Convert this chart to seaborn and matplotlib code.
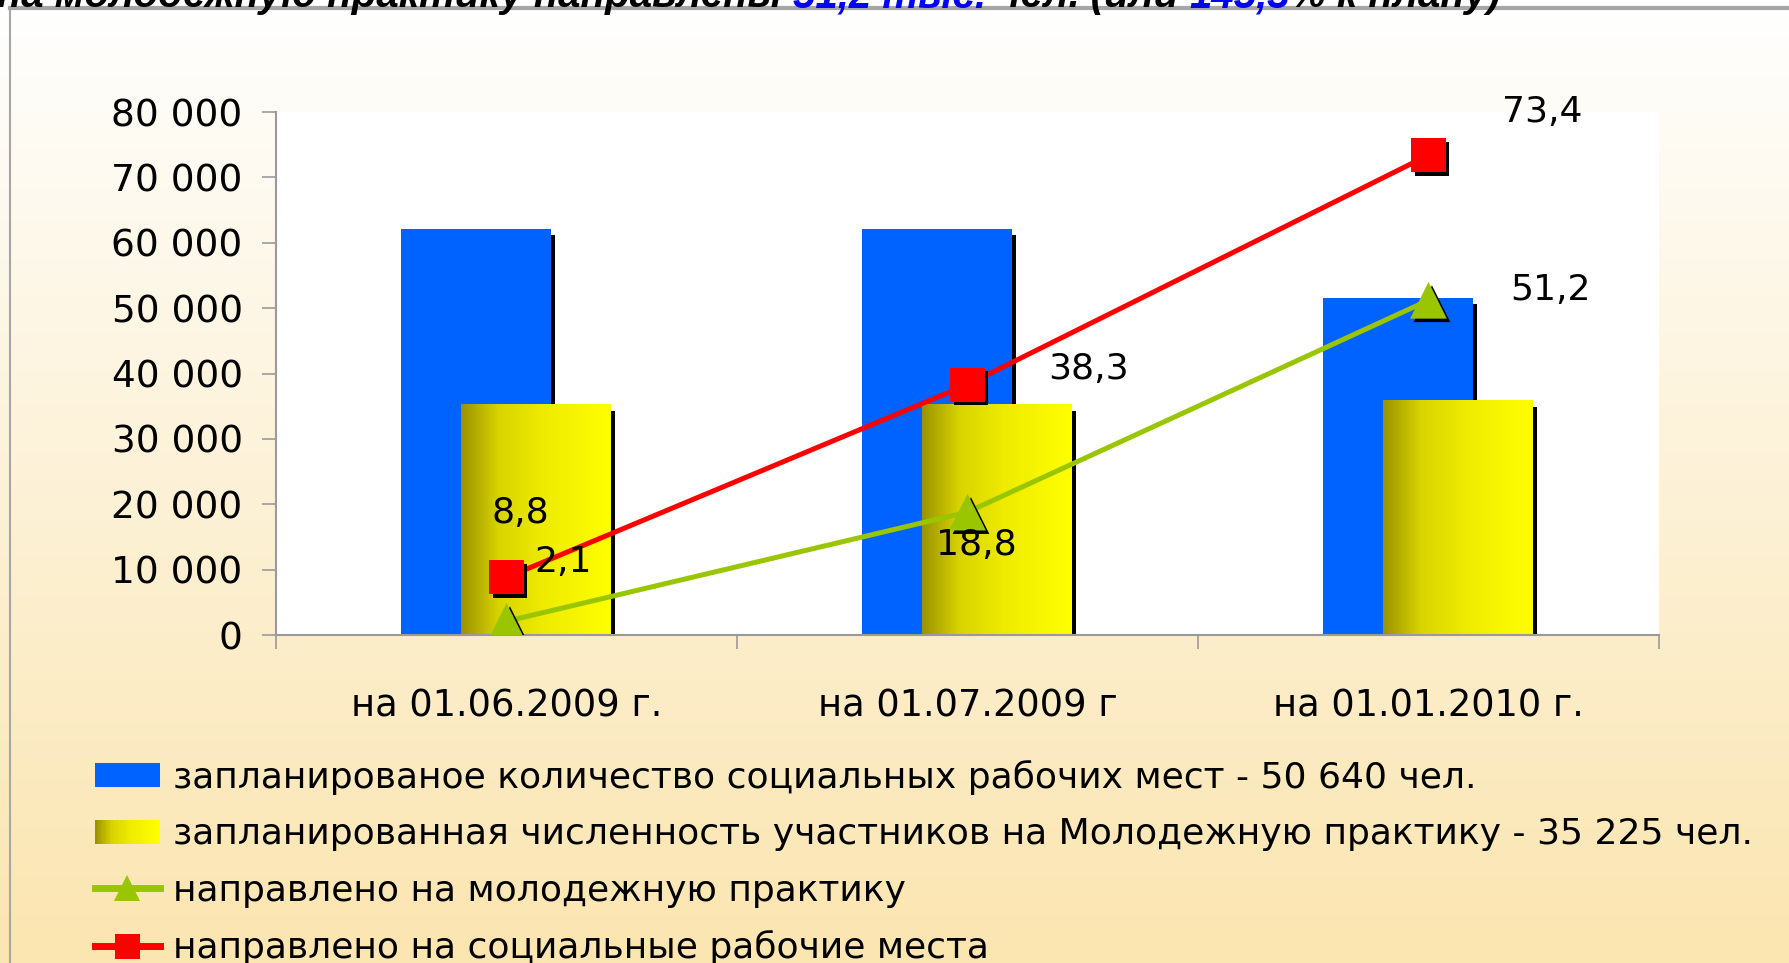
import numpy as np
import seaborn as sns
import matplotlib.pyplot as plt
from matplotlib import patheffects as pe
from matplotlib.colors import LinearSegmentedColormap
from matplotlib.legend_handler import HandlerBase
from matplotlib.patches import Rectangle, Patch
from matplotlib.lines import Line2D
from matplotlib.ticker import FuncFormatter, FixedLocator

# data
dates = ["на 01.06.2009 г.", "на 01.07.2009 г", "на 01.01.2010 г."]
social_plan = [62100, 62100, 51600]     # blue bars
youth_plan = [35225, 35225, 35800]      # yellow bars
youth_sent = [2100, 18800, 51200]       # green line
social_sent = [8800, 38300, 73400]      # red line
youth_labels = ["2,1", "18,8", "51,2"]
social_labels = ["8,8", "38,3", "73,4"]

legend_labels = [
    "запланированое количество социальных рабочих мест - 50 640 чел.",
    "запланированная численность участников на Молодежную практику - 35 225 чел.",
    "направлено на молодежную практику",
    "направлено на социальные рабочие места",
]
title_parts = [
    ("на молодежную практику направлены ", "black"),
    ("51,2 тыс.", "#0000ff"),
    (" чел. (или ", "black"),
    ("145,3", "#0000ff"),
    ("% к плану)", "black"),
]

BLUE = "#0062ff"
GREEN = "#99c600"
RED = "#ff0000"
yellow_cmap = LinearSegmentedColormap.from_list(
    "yel", [(0, "#9a9300"), (0.25, "#d8d400"), (0.55, "#efeb00"), (1, "#ffff00")])

plt.rcParams["font.family"] = ["DejaVu Sans"]

W, H = 1790, 963
fig = plt.figure(figsize=(W / 100, H / 100), dpi=100)

# background gradient
bg = fig.add_axes([0, 0, 1, 1], zorder=-10)
top_c = np.array([255, 255, 255]) / 255
bot_c = np.array([251, 229, 176]) / 255
t = np.linspace(0, 1, 256)[:, None]
grad_bg = (top_c * (1 - t) + bot_c * t)[:, None, :]
bg.imshow(grad_bg, aspect="auto", extent=(0, 1, 0, 1))
bg.set_axis_off()

ax = fig.add_axes([276 / W, 1 - 635 / H, (1659 - 276) / W, (635 - 112) / H])
ax.set_facecolor("white")

shadow = [pe.SimplePatchShadow(offset=(3.3, -4.5), shadow_rgbFace="black", alpha=1), pe.Normal()]

n0 = len(ax.patches)
sns.barplot(x=dates, y=social_plan, color=BLUE, saturation=1, width=0.325,
            errorbar=None, ax=ax, zorder=1)
blue_bars = ax.patches[n0:]
n1 = len(ax.patches)
sns.barplot(x=dates, y=youth_plan, color="yellow", saturation=1, width=0.325,
            errorbar=None, ax=ax, zorder=1)
yellow_bars = ax.patches[n1:]

for p in blue_bars:
    p.set_x(p.get_x() - 0.067)
    p.set_path_effects(shadow)
grad = np.linspace(0, 1, 256).reshape(1, -1)
for p in yellow_bars:
    p.set_x(p.get_x() + 0.064)
    p.set_path_effects(shadow)
    x0, y0, w, h = p.get_x(), p.get_y(), p.get_width(), p.get_height()
    ax.imshow(grad, cmap=yellow_cmap, extent=(x0, x0 + w, y0, y0 + h),
              aspect="auto", zorder=1.2, interpolation="bilinear")

# lines
sns.lineplot(x=dates, y=youth_sent, color=GREEN, lw=3.6, sort=False, ax=ax, zorder=3)
sns.lineplot(x=dates, y=social_sent, color=RED, lw=3.6, sort=False, ax=ax, zorder=3)
mshadow = [pe.SimplePatchShadow(offset=(2.5, -2.5), shadow_rgbFace="black", alpha=1), pe.Normal()]
sns.scatterplot(x=dates, y=youth_sent, marker="^", s=700, color=GREEN, edgecolor="none",
                ax=ax, zorder=4, path_effects=mshadow)
sns.scatterplot(x=dates, y=social_sent, marker="s", s=600, color=RED, edgecolor="none",
                ax=ax, zorder=4, path_effects=mshadow)

# value labels (offsets in pixels from the point)
youth_off = [(57, 59), (9, -33), (122, 10)]
social_off = [(14, 64), (121, 16), (114, 43)]
for i in range(len(dates)):
    ax.annotate(youth_labels[i], (i, youth_sent[i]), xytext=youth_off[i],
                textcoords="offset pixels", ha="center", va="center", fontsize=26, zorder=5)
    ax.annotate(social_labels[i], (i, social_sent[i]), xytext=social_off[i],
                textcoords="offset pixels", ha="center", va="center", fontsize=26, zorder=5)

ax.set_xlim(-0.5, 2.5)
ax.set_ylim(0, 80000)
ax.set_yticks(np.arange(0, 80001, 10000))
ax.yaxis.set_major_formatter(FuncFormatter(lambda v, _: f"{int(v):,}".replace(",", " ")))
ax.xaxis.set_minor_locator(FixedLocator([-0.5, 0.5, 1.5, 2.5]))
ax.tick_params(axis="y", length=10, width=1.2, color="#9a9a9a", pad=14, labelsize=27)
ax.tick_params(axis="x", which="major", length=0, pad=38, labelsize=26.5)
ax.tick_params(axis="x", which="minor", length=10, width=1.2, color="#9a9a9a")
ax.set_xlabel("")
ax.set_ylabel("")
for s in ["top", "right"]:
    ax.spines[s].set_visible(False)
for s in ["left", "bottom"]:
    ax.spines[s].set_color("#9a9a9a")
    ax.spines[s].set_linewidth(1.5)


class GradientHandler(HandlerBase):
    def create_artists(self, legend, orig_handle, xdescent, ydescent, width, height, fontsize, trans):
        n = 40
        out = []
        for k in range(n):
            out.append(Rectangle((-xdescent + width * k / n, -ydescent), width / n * 1.1, height,
                                 facecolor=yellow_cmap(k / (n - 1)), edgecolor="none", transform=trans))
        return out


yellow_handle = Patch(facecolor="yellow")
handles = [
    Patch(facecolor=BLUE, edgecolor="none"),
    yellow_handle,
    Line2D([], [], color=GREEN, lw=5, marker="^", markersize=19, markeredgewidth=0),
    Line2D([], [], color=RED, lw=5, marker="s", markersize=18, markeredgewidth=0),
]
fig.legend(handles, legend_labels, loc="upper left", bbox_to_anchor=(95 / W, 1 - 760 / H),
           frameon=False, fontsize=26, handlelength=1.8, handleheight=0.65,
           handletextpad=0.35, labelspacing=0.62, borderpad=0, borderaxespad=0,
           handler_map={yellow_handle: GradientHandler()})

# frame lines
fig.add_artist(Line2D([10 / W, 1], [1 - 8 / H] * 2, transform=fig.transFigure, color="#a6a6a6", lw=3))
fig.add_artist(Line2D([10 / W] * 2, [0, 1 - 8 / H], transform=fig.transFigure, color="#a6a6a6", lw=1.5))

# title, cut off by the top edge as in the source slide
renderer = fig.canvas.get_renderer()
x = -3 / W
for txt, col in title_parts:
    tt = fig.text(x, 1 - 7 / H, txt, color=col, fontsize=29, fontweight="bold", fontstyle="italic",
                  family=["Liberation Sans", "DejaVu Sans"], ha="left", va="baseline")
    x = tt.get_window_extent(renderer).x1 / W

fig.savefig("out.png", dpi=100)
